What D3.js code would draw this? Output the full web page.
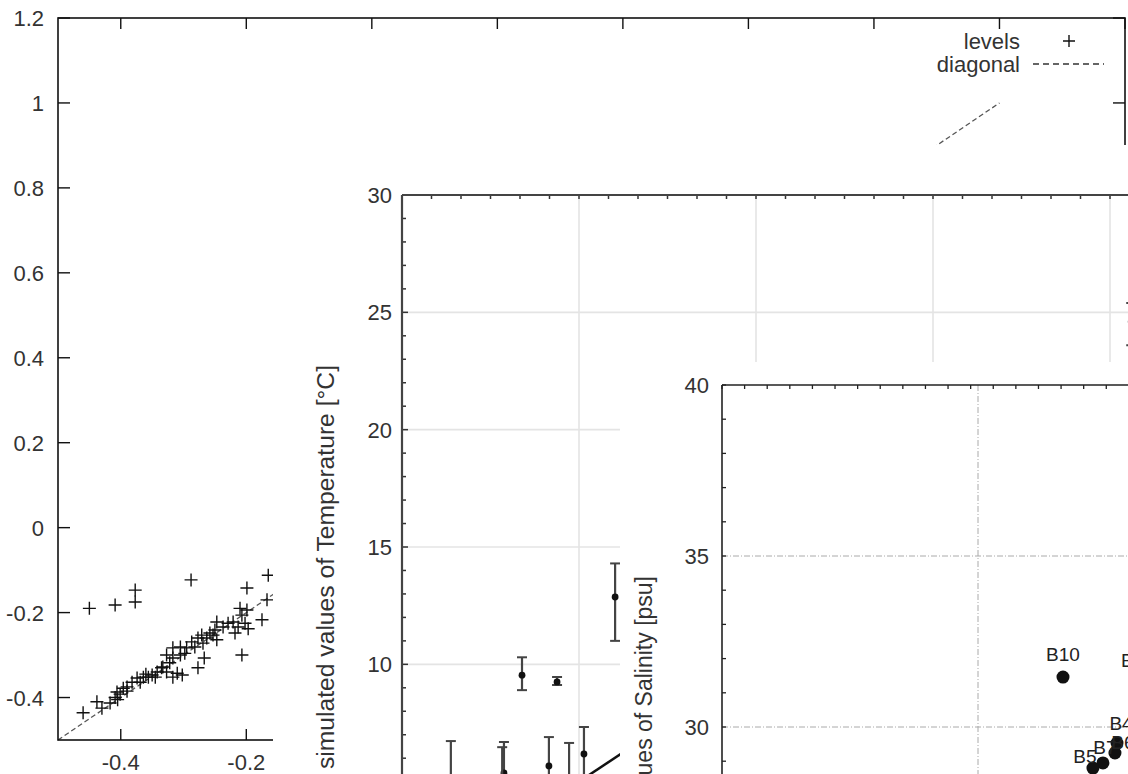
<!DOCTYPE html>
<html><head><meta charset="utf-8">
<script src="https://cdn.jsdelivr.net/npm/d3@7"></script>
<style>body{margin:0;background:#fff;} text{font-family:"Liberation Sans",Arial,sans-serif;}</style>
</head><body>
<svg id="c" width="1128" height="774"></svg>
<script>
// ---------- Data: levels (observed vs simulated) ----------
const levelsX = [-0.45,-0.409,-0.377,-0.377,-0.288,-0.199,-0.167,-0.165,-0.175,-0.207,-0.197,-0.277,-0.267,
 -0.46,-0.438,-0.43,-0.417,-0.409,-0.406,-0.401,-0.396,-0.39,-0.382,-0.374,-0.369,-0.364,-0.356,-0.35,-0.345,
 -0.342,-0.333,-0.327,-0.322,-0.317,-0.31,-0.305,-0.298,-0.295,-0.287,-0.282,-0.277,-0.271,-0.263,-0.258,-0.25,
 -0.247,-0.247,-0.237,-0.229,-0.221,-0.218,-0.213,-0.21,-0.207,-0.202,-0.199,-0.327,-0.317,-0.305,-0.405,-0.317,
 -0.302,-0.269,-0.253,-0.39,-0.36,-0.335];
const levelsY = [-0.19,-0.182,-0.147,-0.175,-0.123,-0.142,-0.17,-0.112,-0.217,-0.30,-0.238,-0.33,-0.307,
 -0.436,-0.41,-0.425,-0.413,-0.40,-0.387,-0.392,-0.378,-0.375,-0.364,-0.354,-0.364,-0.352,-0.352,-0.347,-0.352,
 -0.34,-0.328,-0.34,-0.318,-0.307,-0.343,-0.30,-0.296,-0.283,-0.269,-0.281,-0.26,-0.253,-0.26,-0.248,-0.241,
 -0.222,-0.264,-0.234,-0.225,-0.222,-0.248,-0.234,-0.19,-0.206,-0.225,-0.194,-0.30,-0.283,-0.281,-0.405,-0.352,
 -0.347,-0.272,-0.253,-0.385,-0.345,-0.33];
const levelsTicks = [-0.4,-0.2,0,0.2,0.4,0.6,0.8,1,1.2];
const levelsYLabels = ["-0.4","-0.2","0","0.2","0.4","0.6","0.8","1","1.2"];
const legendLabels = ["levels","diagonal"];

// ---------- Data: temperature ----------
const tempObs  = [1.38, 2.88, 2.83, 3.39, 4.38, 4.15, 4.72, 5.14, 6.02, 20.6, 20.65];
const tempSim  = [4.6, 5.37, 5.0, 9.54, 9.25, 5.67, 5.0, 6.18, 12.87, 24.6, 22.5];
const tempLow  = [2.5, 3.8, 3.9, 8.9, 9.12, 4.4, 3.6, 5.0, 11.0, 23.6, 21.5];
const tempHigh = [6.73, 6.69, 6.47, 10.3, 9.46, 6.9, 6.65, 7.33, 14.3, 25.4, 23.3];
const tempYTicks = [5, 10, 15, 20, 25, 30];
const tempXGrid = [5, 10, 15, 20, 25];

// ---------- Data: salinity ----------
const salNames = ["B10", "B9", "B4", "B6", "B7", "B5"];
const salObs   = [13.32, 16.2, 15.43, 15.35, 14.88, 14.49];
const salSim   = [31.46, 31.45, 29.53, 29.24, 28.95, 28.8];
const salYTicks = [30, 35, 40];
const salXGrid = [10];

const svg = d3.select("#c");
const font = 22;

// ================= Layer 1: levels =================
const xL = d3.scaleLinear([-0.5, 1.2], [58, 1125]);
const yL = d3.scaleLinear([-0.5, 1.2], [740, 18]);
const g1 = svg.append("g");
g1.append("line").attr("x1", xL(-0.5)).attr("y1", yL(-0.5)).attr("x2", xL(1)).attr("y2", yL(1))
  .attr("stroke", "#555").attr("stroke-width", 1.3).attr("stroke-dasharray", "5,3");
g1.append("rect").attr("x", xL(-0.5)).attr("y", yL(1.2)).attr("width", xL(1.2) - xL(-0.5))
  .attr("height", yL(-0.5) - yL(1.2)).attr("fill", "none").attr("stroke", "#111").attr("stroke-width", 1.6);
levelsTicks.forEach(v => {
  g1.append("line").attr("x1", xL(-0.5)).attr("x2", xL(-0.5) + 12).attr("y1", yL(v)).attr("y2", yL(v)).attr("stroke", "#111").attr("stroke-width", 1.4);
  g1.append("line").attr("x1", xL(1.2)).attr("x2", xL(1.2) - 12).attr("y1", yL(v)).attr("y2", yL(v)).attr("stroke", "#111").attr("stroke-width", 1.4);
  g1.append("line").attr("y1", yL(1.2)).attr("y2", yL(1.2) + 11).attr("x1", xL(v)).attr("x2", xL(v)).attr("stroke", "#111").attr("stroke-width", 1.4);
  g1.append("line").attr("y1", yL(-0.5)).attr("y2", yL(-0.5) - 11).attr("x1", xL(v)).attr("x2", xL(v)).attr("stroke", "#111").attr("stroke-width", 1.4);
});
levelsTicks.forEach((v, i) => {
  g1.append("text").attr("x", 44).attr("y", yL(v) + 8).attr("text-anchor", "end").attr("font-size", font).attr("fill", "#333").text(levelsYLabels[i]);
});
[-0.4, -0.2].forEach((v, i) => {
  g1.append("text").attr("x", xL(v)).attr("y", 770).attr("text-anchor", "middle").attr("font-size", font).attr("fill", "#333").text(levelsYLabels[i]);
});
levelsX.forEach((x, i) => {
  const px = xL(x), py = yL(levelsY[i]);
  g1.append("path").attr("d", `M${px-6.5},${py}H${px+6.5}M${px},${py-6.5}V${py+6.5}`).attr("stroke", "#111").attr("stroke-width", 1.4);
});
g1.append("text").attr("x", 1020).attr("y", 49).attr("text-anchor", "end").attr("font-size", font).attr("fill", "#333").text(legendLabels[0]);
g1.append("text").attr("x", 1020).attr("y", 72).attr("text-anchor", "end").attr("font-size", font).attr("fill", "#333").text(legendLabels[1]);
g1.append("path").attr("d", "M1063,41H1075M1069,35V47").attr("stroke", "#111").attr("stroke-width", 1.4);
g1.append("line").attr("x1", 1033).attr("x2", 1104).attr("y1", 64).attr("y2", 64).attr("stroke", "#333").attr("stroke-width", 1.4).attr("stroke-dasharray", "6,4");

// ================= Layer 2: temperature =================
const g2 = svg.append("g");
g2.append("rect").attr("x", 273).attr("y", 145).attr("width", 860).attr("height", 640).attr("fill", "#fff");
const xT = d3.scaleLinear([0, 30], [402, 1464]);
const yT = d3.scaleLinear([0, 30], [899, 195]);
tempYTicks.filter(v => v < 30).forEach(v => {
  g2.append("line").attr("x1", xT(0)).attr("x2", 1128).attr("y1", yT(v)).attr("y2", yT(v)).attr("stroke", "#e4e4e4").attr("stroke-width", 1.6);
});
tempXGrid.forEach(v => {
  g2.append("line").attr("x1", xT(v)).attr("x2", xT(v)).attr("y1", yT(30)).attr("y2", 774).attr("stroke", "#e4e4e4").attr("stroke-width", 1.6);
});
g2.append("line").attr("x1", xT(0)).attr("y1", yT(0)).attr("x2", xT(30)).attr("y2", yT(30)).attr("stroke", "#111").attr("stroke-width", 2.5);
d3.range(0, 31, 1).forEach(v => {
  g2.append("line").attr("x1", xT(0)).attr("x2", xT(0) + (v % 5 === 0 ? 6 : 4)).attr("y1", yT(v)).attr("y2", yT(v)).attr("stroke", "#333").attr("stroke-width", 1.5);
});
d3.range(0, 30, 5 / 6).forEach(v => {
  g2.append("line").attr("y1", yT(30)).attr("y2", yT(30) + 4).attr("x1", xT(v)).attr("x2", xT(v)).attr("stroke", "#333").attr("stroke-width", 1.5);
});
g2.append("line").attr("x1", xT(0)).attr("x2", 1128).attr("y1", yT(30)).attr("y2", yT(30)).attr("stroke", "#444").attr("stroke-width", 2.2);
g2.append("line").attr("x1", xT(0)).attr("x2", xT(0)).attr("y1", yT(30)).attr("y2", 774).attr("stroke", "#444").attr("stroke-width", 2.2);
tempYTicks.forEach(v => {
  g2.append("text").attr("x", 392).attr("y", yT(v) + 8).attr("text-anchor", "end").attr("font-size", font).attr("fill", "#333").text(v);
});
g2.append("text").attr("transform", "translate(334,365) rotate(-90)").attr("text-anchor", "end")
  .attr("font-size", 23).attr("textLength", 404).attr("lengthAdjust", "spacingAndGlyphs")
  .attr("fill", "#333").text("simulated values of Temperature [°C]");
tempObs.forEach((x, i) => {
  const px = xT(x);
  g2.append("line").attr("x1", px).attr("x2", px).attr("y1", yT(tempLow[i])).attr("y2", yT(tempHigh[i])).attr("stroke", "#444").attr("stroke-width", 2.2);
  [tempLow[i], tempHigh[i]].forEach(e => {
    g2.append("line").attr("x1", px - 5).attr("x2", px + 5).attr("y1", yT(e)).attr("y2", yT(e)).attr("stroke", "#444").attr("stroke-width", 2);
  });
  g2.append("circle").attr("cx", px).attr("cy", yT(tempSim[i])).attr("r", 3.4).attr("fill", "#111");
});

// ================= Layer 3: salinity =================
const g3 = svg.append("g");
g3.append("rect").attr("x", 620).attr("y", 362).attr("width", 520).attr("height", 420).attr("fill", "#fff");
const xS = d3.scaleLinear([0, 40], [722, 1746]);
const yS = d3.scaleLinear([25, 40], [898, 385]);
salYTicks.filter(v => v < 40).forEach(v => {
  g3.append("line").attr("x1", xS(0)).attr("x2", 1128).attr("y1", yS(v)).attr("y2", yS(v)).attr("stroke", "#aaa").attr("stroke-width", 1).attr("stroke-dasharray", "6,2,1,2");
});
salXGrid.forEach(v => {
  g3.append("line").attr("x1", xS(v)).attr("x2", xS(v)).attr("y1", yS(40)).attr("y2", 774).attr("stroke", "#aaa").attr("stroke-width", 1).attr("stroke-dasharray", "6,2,1,2");
});
d3.range(25, 41, 1).forEach(v => {
  g3.append("line").attr("x1", xS(0)).attr("x2", xS(0) + 4).attr("y1", yS(v)).attr("y2", yS(v)).attr("stroke", "#222").attr("stroke-width", 1.3);
});
d3.range(0, 40, 0.883).forEach(v => {
  g3.append("line").attr("y1", yS(40)).attr("y2", yS(40) + 4).attr("x1", xS(v)).attr("x2", xS(v)).attr("stroke", "#222").attr("stroke-width", 1.3);
});
g3.append("line").attr("x1", xS(0)).attr("x2", 1128).attr("y1", yS(40)).attr("y2", yS(40)).attr("stroke", "#222").attr("stroke-width", 1.6);
g3.append("line").attr("x1", xS(0)).attr("x2", xS(0)).attr("y1", yS(40)).attr("y2", 774).attr("stroke", "#222").attr("stroke-width", 1.6);
salYTicks.forEach(v => {
  g3.append("text").attr("x", 709).attr("y", yS(v) + 8).attr("text-anchor", "end").attr("font-size", font).attr("fill", "#333").text(v);
});
g3.append("text").attr("transform", "translate(652,576) rotate(-90)").attr("text-anchor", "end")
  .attr("font-size", 23).attr("fill", "#333").text("simulated values of Salinity [psu]");
salObs.forEach((x, i) => {
  g3.append("circle").attr("cx", xS(x)).attr("cy", yS(salSim[i])).attr("r", 6.5).attr("fill", "#111");
});
const labelOff = [[0, -16], [-4, -10], [4, -13], [8, -4], [2, -9], [-8, -5]];
salObs.forEach((x, i) => {
  g3.append("text").attr("x", xS(x) + labelOff[i][0]).attr("y", yS(salSim[i]) + labelOff[i][1])
    .attr("text-anchor", "middle").attr("font-size", 19).attr("fill", "#222").text(salNames[i]);
});
</script>
</body></html>
